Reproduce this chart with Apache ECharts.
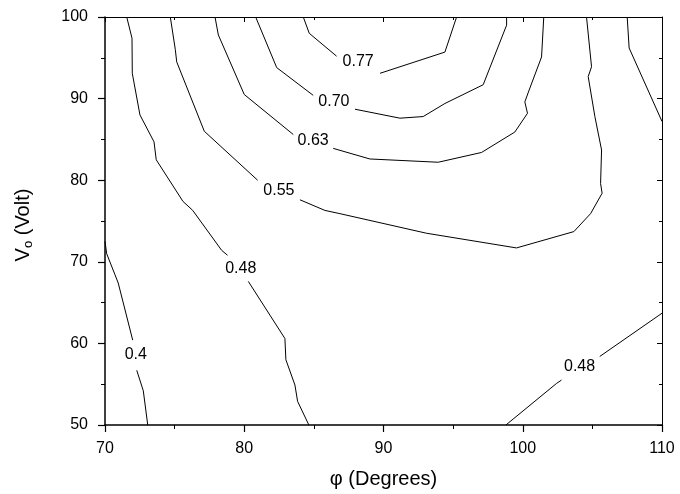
<!DOCTYPE html>
<html>
<head>
<meta charset="utf-8">
<script src="https://cdn.jsdelivr.net/npm/echarts@6/dist/echarts.min.js"></script>
<style>
  html, body { margin: 0; padding: 0; background: #fff; }
  #chart { width: 680px; height: 494px; }
</style>
</head>
<body>
<div id="chart"></div>
<script>
// Axis ranges and tick spacing
const phiTicks = [70, 80, 90, 100, 110];
const voltTicks = [50, 60, 70, 80, 90, 100];

// Contour lines of efficiency over (phi [deg], Vo [V]); null marks the gap left for the level label
const contour040 = [[70, 72.5], [70.12, 71.0], [70.72, 68.4], [70.95, 67.4], [71.99, 60.4], null,
  [72.28, 56.7], [72.75, 54.2], [73.07, 50]];
const contour048a = [[71.56, 100], [71.94, 97.4], [71.96, 93.1], [72.51, 88.0], [73.52, 84.7], [73.68, 82.5],
  [75.60, 77.4], [76.30, 76.3], [78.38, 71.4], [78.8, 70.8], null,
  [80.29, 67.6], [82.92, 60.6], [82.99, 58.0], [83.64, 54.9], [83.83, 52.9], [84.64, 50]];
const contour055 = [[74.69, 100], [75.05, 96.0], [75.15, 94.5], [77.13, 86.0], [80.96, 80.0], null,
  [84.0, 77.6], [85.79, 76.3], [86.87, 75.9], [93.09, 73.5], [99.55, 71.7], [103.67, 73.7],
  [104.87, 75.9], [105.70, 78.4], [105.59, 79.6], [105.66, 83.7], [105.18, 87.8], [104.70, 92.7],
  [104.94, 93.9], [104.58, 100]];
const contour063 = [[77.90, 100], [78.14, 97.8], [80.0, 90.5], [83.52, 85.6], null,
  [86.39, 83.9], [89.02, 82.6], [93.93, 82.2], [97.04, 83.4], [99.43, 85.9], [100.34, 88.2],
  [100.15, 89.6], [100.46, 91.05], [101.35, 95.1], [101.51, 100]];
const contour070 = [[80.82, 100], [82.33, 93.8], [84.95, 90.4], null,
  [87.95, 88.7], [91.18, 87.6], [92.85, 87.8], [94.41, 89.4], [97.16, 91.7], [98.84, 99.0], [98.84, 100]];
const contour077 = [[84.24, 100], [84.67, 98.0], [86.63, 95.2], null,
  [89.75, 93.1], [94.41, 95.7], [95.25, 100]];
const contourRight = [[107.5, 100], [107.64, 96.2], [110, 87.2]];
const contour048b = [[98.79, 50], [102.43, 55.1], [102.78, 55.5], null,
  [105.53, 58.4], [110, 63.7]];

// Level labels: [phi, Vo, text]
const levelLabels = [
  [72.21, 58.6, '0.4'],
  [79.75, 69.2, '0.48'],
  [82.49, 78.7, '0.55'],
  [84.95, 84.84, '0.63'],
  [86.44, 89.62, '0.70'],
  [88.18, 94.52, '0.77'],
  [104.08, 57.14, '0.48']
];

const FONT = "'Liberation Sans', Arial, Helvetica, sans-serif";
const contours = [contour040, contour048a, contour055, contour063, contour070, contour077, contourRight, contour048b];

const chart = echarts.init(document.getElementById('chart'), null, { renderer: 'canvas' });

function baseAxis(min, max, interval) {
  return {
    type: 'value', min: min, max: max, interval: interval,
    splitLine: { show: false },
    minorSplitLine: { show: false },
  };
}

// Main axes: ticks outward; mirror axes: ticks inward, no labels
function mainAxis(ticks, pos, extra) {
  return Object.assign(baseAxis(ticks[0], ticks[ticks.length - 1], ticks[1] - ticks[0]), {
    position: pos,
    axisLine: { show: true, onZero: false, lineStyle: { color: '#000', width: 1.5 } },
    axisTick: { show: true, inside: false, length: 7, lineStyle: { color: '#000', width: 1.2 } },
    minorTick: { show: true, splitNumber: 2, length: 4, lineStyle: { color: '#000', width: 1 } }
  }, extra);
}
function mirrorAxis(ticks, pos) {
  return Object.assign(baseAxis(ticks[0], ticks[ticks.length - 1], ticks[1] - ticks[0]), {
    position: pos,
    axisLine: { show: true, onZero: false, lineStyle: { color: '#000', width: 1 } },
    axisTick: { show: true, inside: true, length: 5, lineStyle: { color: '#000', width: 1 } },
    minorTick: { show: true, splitNumber: 2, length: 3, lineStyle: { color: '#000', width: 1 } },
    axisLabel: { show: false }
  });
}

const option = {
  backgroundColor: '#fff',
  animation: false,
  grid: { left: 105, right: 18, top: 17, bottom: 69, containLabel: false },
  xAxis: [
    mainAxis(phiTicks, 'bottom', {
      name: 'φ (Degrees)', nameLocation: 'middle', nameGap: 44,
      nameTextStyle: { fontFamily: FONT, fontSize: 20, color: '#000' },
      axisLabel: { fontFamily: FONT, fontSize: 16, color: '#000', margin: 16 }
    }),
    mirrorAxis(phiTicks, 'top')
  ],
  yAxis: [
    mainAxis(voltTicks, 'left', {
      name: 'V{sub|o} (Volt)', nameLocation: 'middle', nameGap: 70, nameRotate: 90,
      nameTextStyle: {
        fontFamily: FONT, fontSize: 20, color: '#000', padding: [0, 8, 0, 0],
        rich: { sub: { fontFamily: FONT, fontSize: 13, color: '#000', padding: [11, 0, 0, 0] } }
      },
      axisLabel: { fontFamily: FONT, fontSize: 16, color: '#000', margin: 17 }
    }),
    mirrorAxis(voltTicks, 'right')
  ],
  series: contours.map(function (pts) {
    return {
      type: 'line', xAxisIndex: 0, yAxisIndex: 0,
      data: pts.map(function (p) { return p === null ? '-' : p; }),
      connectNulls: false, showSymbol: false, symbol: 'none', silent: true,
      lineStyle: { color: '#000', width: 1 },
      clip: true
    };
  }).concat([{
    type: 'scatter', xAxisIndex: 0, yAxisIndex: 0,
    symbolSize: 0, silent: true,
    itemStyle: { opacity: 1 },
    data: levelLabels.map(function (l) { return { value: [l[0], l[1]], name: l[2] }; }),
    label: {
      show: true, position: 'inside', formatter: '{b}',
      fontFamily: FONT, fontSize: 16, color: '#000', opacity: 1
    }
  }])
};

chart.setOption(option);
</script>
</body>
</html>
